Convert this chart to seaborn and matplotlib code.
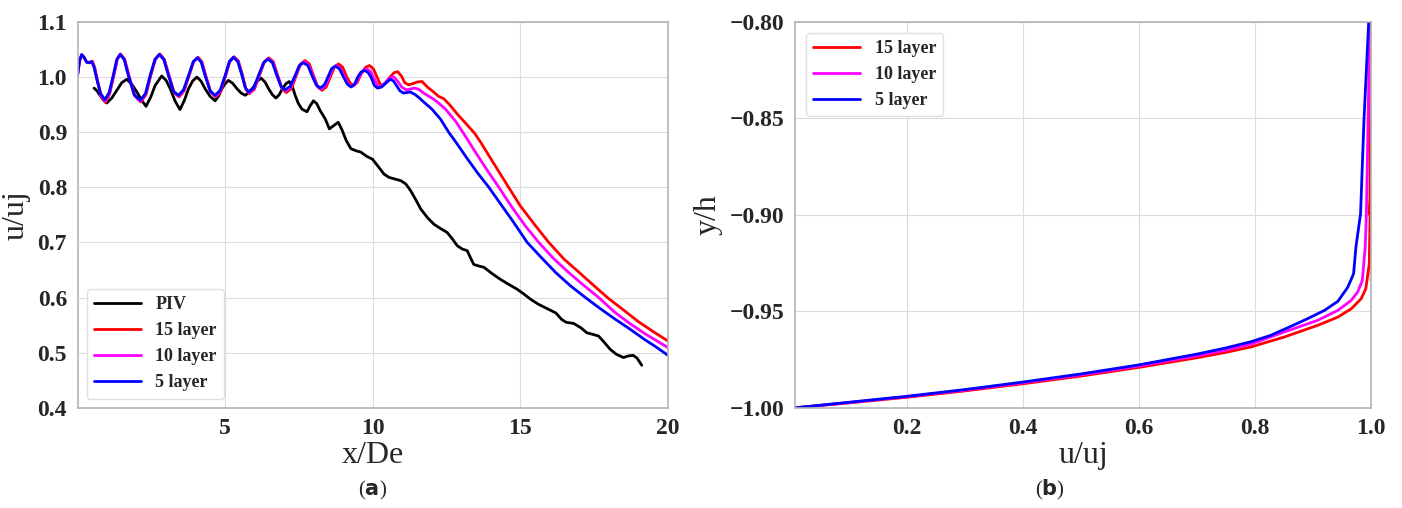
import matplotlib
matplotlib.use("Agg")
import matplotlib.pyplot as plt
import seaborn as sns

# ---- panel (a): centreline velocity decay ----
piv_x = [0.56, 0.66, 0.76, 0.88, 0.99, 1.16, 1.33, 1.50, 1.67, 1.84, 2.01, 2.17, 2.32, 2.48, 2.63,
         2.85, 3.00, 3.14, 3.30, 3.47, 3.62, 3.76, 3.90, 4.04, 4.18, 4.32, 4.49, 4.66, 4.78, 4.89,
         5.00, 5.11, 5.25, 5.40, 5.54, 5.68, 5.82, 5.96, 6.09, 6.22, 6.35, 6.47, 6.60, 6.72, 6.83,
         6.94, 7.06, 7.17, 7.27, 7.37, 7.48, 7.60, 7.77, 7.88, 7.99, 8.10, 8.22, 8.39, 8.53, 8.70,
         8.83, 8.95, 9.10, 9.26, 9.45, 9.59, 9.80, 9.99, 10.18, 10.38, 10.55, 10.75, 10.95, 11.12,
         11.28, 11.45, 11.62, 11.85, 12.07, 12.30, 12.52, 12.70, 12.86, 13.03, 13.20, 13.30, 13.42,
         13.60, 13.76, 14.05, 14.32, 14.60, 14.89, 15.10, 15.34, 15.60, 15.90, 16.20, 16.40, 16.55,
         16.80, 17.05, 17.25, 17.46, 17.65, 17.85, 18.04, 18.25, 18.49, 18.65, 18.82, 18.95, 19.11]
piv_u = [0.980, 0.975, 0.967, 0.958, 0.953, 0.962, 0.976, 0.990, 0.996, 0.987, 0.973, 0.958, 0.947,
         0.964, 0.985, 1.002, 0.994, 0.979, 0.957, 0.941, 0.958, 0.979, 0.993, 1.000, 0.993, 0.979,
         0.965, 0.957, 0.966, 0.979, 0.988, 0.994, 0.989, 0.979, 0.971, 0.967, 0.973, 0.982, 0.993,
         0.998, 0.991, 0.979, 0.968, 0.962, 0.968, 0.979, 0.988, 0.992, 0.984, 0.967, 0.952, 0.942,
         0.937, 0.948, 0.957, 0.952, 0.939, 0.924, 0.906, 0.913, 0.918, 0.905, 0.885, 0.870, 0.866,
         0.864, 0.856, 0.851, 0.838, 0.824, 0.818, 0.815, 0.812, 0.806, 0.794, 0.778, 0.761, 0.745,
         0.733, 0.725, 0.718, 0.706, 0.694, 0.688, 0.685, 0.673, 0.660, 0.657, 0.655, 0.643, 0.633,
         0.624, 0.615, 0.607, 0.597, 0.588, 0.580, 0.572, 0.560, 0.555, 0.553, 0.545, 0.536, 0.533,
         0.530, 0.518, 0.506, 0.497, 0.491, 0.494, 0.495, 0.490, 0.477]

l15_x = [0.00, 0.07, 0.14, 0.22, 0.31, 0.40, 0.50, 0.58, 0.67, 0.80, 0.95, 1.09, 1.23, 1.35, 1.46,
         1.60, 1.74, 1.94, 2.14, 2.32, 2.48, 2.64, 2.79, 2.94, 3.10, 3.27, 3.44, 3.61, 3.78, 3.94,
         4.08, 4.21, 4.34, 4.51, 4.68, 4.85, 5.02, 5.16, 5.30, 5.45, 5.59, 5.70, 5.82, 5.99, 6.16,
         6.33, 6.48, 6.63, 6.78, 6.93, 7.07, 7.24, 7.41, 7.56, 7.70, 7.85, 7.99, 8.14, 8.28, 8.42,
         8.56, 8.70, 8.84, 8.98, 9.12, 9.25, 9.35, 9.47, 9.60, 9.76, 9.89, 10.02, 10.16, 10.25,
         10.31, 10.44, 10.58, 10.72, 10.84, 10.97, 11.08, 11.21, 11.35, 11.50, 11.67, 11.85, 12.06,
         12.23, 12.40, 12.60, 12.86, 13.15, 13.45, 13.65, 14.10, 14.60, 15.00, 15.50, 15.96, 16.47,
         17.00, 17.50, 17.99, 18.50, 19.00, 19.50, 20.00]
l15_u = [1.003, 1.030, 1.040, 1.036, 1.027, 1.027, 1.029, 1.018, 0.995, 0.965, 0.954, 0.970, 1.003,
         1.033, 1.042, 1.032, 1.003, 0.966, 0.955, 0.968, 1.003, 1.033, 1.042, 1.032, 1.003, 0.972,
         0.964, 0.975, 1.003, 1.029, 1.036, 1.028, 1.003, 0.973, 0.964, 0.974, 1.003, 1.029, 1.037,
         1.029, 1.003, 0.978, 0.970, 0.978, 1.003, 1.028, 1.035, 1.028, 1.003, 0.979, 0.972, 0.979,
         1.003, 1.024, 1.030, 1.024, 1.003, 0.982, 0.976, 0.982, 1.000, 1.018, 1.024, 1.018, 1.000,
         0.988, 0.985, 0.990, 1.005, 1.018, 1.021, 1.015, 0.998, 0.987, 0.985, 0.990, 1.000, 1.008,
         1.010, 1.002, 0.990, 0.986, 0.988, 0.991, 0.992, 0.982, 0.973, 0.965, 0.961, 0.950, 0.933,
         0.916, 0.898, 0.882, 0.843, 0.800, 0.766, 0.731, 0.700, 0.670, 0.645, 0.621, 0.598, 0.577,
         0.556, 0.538, 0.521]

l10_x = [0.00, 0.07, 0.14, 0.22, 0.31, 0.40, 0.49, 0.57, 0.66, 0.79, 0.94, 1.08, 1.22, 1.34, 1.45,
         1.59, 1.73, 1.93, 2.13, 2.31, 2.47, 2.63, 2.78, 2.93, 3.09, 3.26, 3.43, 3.60, 3.77, 3.93,
         4.07, 4.20, 4.33, 4.50, 4.67, 4.84, 5.01, 5.15, 5.29, 5.44, 5.58, 5.69, 5.81, 5.98, 6.15,
         6.32, 6.47, 6.62, 6.77, 6.91, 7.05, 7.22, 7.39, 7.54, 7.68, 7.83, 7.97, 8.11, 8.25, 8.39,
         8.52, 8.64, 8.76, 8.90, 9.05, 9.18, 9.30, 9.42, 9.55, 9.68, 9.80, 9.93, 10.06, 10.16, 10.24,
         10.38, 10.52, 10.64, 10.72, 10.85, 10.98, 11.12, 11.25, 11.40, 11.55, 11.75, 12.06, 12.25,
         12.46, 12.80, 13.05, 13.45, 13.85, 14.27, 14.70, 15.15, 15.62, 16.10, 16.60, 17.10, 17.65,
         18.20, 18.70, 19.20, 19.60, 20.00]
l10_u = [1.003, 1.030, 1.040, 1.036, 1.027, 1.026, 1.028, 1.018, 0.996, 0.967, 0.956, 0.971, 1.003,
         1.032, 1.041, 1.032, 1.003, 0.967, 0.956, 0.969, 1.003, 1.032, 1.041, 1.032, 1.003, 0.973,
         0.965, 0.976, 1.003, 1.028, 1.035, 1.027, 1.003, 0.974, 0.965, 0.975, 1.003, 1.028, 1.036,
         1.028, 1.003, 0.980, 0.971, 0.979, 1.003, 1.027, 1.034, 1.027, 1.003, 0.981, 0.975, 0.981,
         1.003, 1.022, 1.028, 1.022, 1.003, 0.984, 0.978, 0.984, 1.000, 1.016, 1.021, 1.016, 1.000,
         0.987, 0.983, 0.988, 1.002, 1.012, 1.015, 1.010, 0.996, 0.985, 0.982, 0.987, 0.996, 1.000,
         1.000, 0.992, 0.982, 0.977, 0.978, 0.980, 0.978, 0.970, 0.960, 0.952, 0.942, 0.920, 0.900,
         0.866, 0.833, 0.800, 0.765, 0.731, 0.700, 0.672, 0.647, 0.624, 0.600, 0.573, 0.553, 0.535,
         0.522, 0.509]

l5_x = [0.00, 0.07, 0.14, 0.22, 0.31, 0.40, 0.48, 0.56, 0.65, 0.78, 0.93, 1.07, 1.21, 1.33, 1.44,
        1.58, 1.72, 1.92, 2.12, 2.30, 2.46, 2.62, 2.77, 2.92, 3.08, 3.25, 3.42, 3.59, 3.76, 3.92,
        4.06, 4.19, 4.32, 4.49, 4.66, 4.83, 5.00, 5.14, 5.28, 5.43, 5.57, 5.68, 5.79, 5.96, 6.13,
        6.30, 6.45, 6.60, 6.75, 6.89, 7.03, 7.20, 7.37, 7.51, 7.65, 7.80, 7.94, 8.08, 8.22, 8.36,
        8.48, 8.60, 8.73, 8.87, 9.01, 9.14, 9.26, 9.38, 9.49, 9.60, 9.71, 9.83, 9.94, 10.05, 10.16,
        10.30, 10.42, 10.59, 10.70, 10.80, 10.92, 11.04, 11.16, 11.27, 11.44, 11.58, 11.72, 12.00,
        12.29, 12.57, 12.80, 13.20, 13.55, 13.93, 14.30, 14.75, 15.23, 15.70, 16.20, 16.70, 17.20,
        17.70, 18.20, 18.70, 19.20, 19.60, 20.00]
l5_u = [1.003, 1.030, 1.041, 1.036, 1.027, 1.026, 1.028, 1.018, 0.997, 0.970, 0.959, 0.972, 1.003,
        1.032, 1.041, 1.032, 1.003, 0.968, 0.958, 0.970, 1.003, 1.032, 1.041, 1.032, 1.003, 0.974,
        0.967, 0.977, 1.003, 1.028, 1.035, 1.027, 1.003, 0.975, 0.967, 0.976, 1.003, 1.028, 1.036,
        1.028, 1.003, 0.981, 0.973, 0.980, 1.003, 1.026, 1.033, 1.026, 1.003, 0.983, 0.977, 0.983,
        1.003, 1.021, 1.026, 1.021, 1.003, 0.986, 0.980, 0.986, 1.000, 1.015, 1.020, 1.015, 1.000,
        0.987, 0.982, 0.987, 1.000, 1.009, 1.012, 1.009, 1.000, 0.985, 0.980, 0.982, 0.988, 0.996,
        0.993, 0.985, 0.975, 0.971, 0.972, 0.973, 0.968, 0.962, 0.955, 0.942, 0.924, 0.900, 0.883,
        0.852, 0.826, 0.800, 0.772, 0.738, 0.700, 0.673, 0.645, 0.621, 0.600, 0.580, 0.561, 0.543,
        0.524, 0.510, 0.495]

# ---- panel (b): near-wall profile ----
b15_u = [0.010, 0.100, 0.200, 0.300, 0.400, 0.500, 0.600, 0.700, 0.750, 0.793, 0.850, 0.908, 0.943,
         0.966, 0.983, 0.991, 0.997, 0.999, 0.997, 0.998, 0.999, 1.000]
b15_y = [-1.000, -0.9975, -0.9946, -0.9913, -0.9876, -0.9836, -0.9791, -0.9741, -0.9713, -0.9685,
         -0.9634, -0.9573, -0.9530, -0.9487, -0.9435, -0.9383, -0.9340, -0.9305, -0.9167, -0.9000,
         -0.8500, -0.8000]
b10_u = [0.010, 0.100, 0.200, 0.300, 0.400, 0.500, 0.600, 0.700, 0.750, 0.793, 0.850, 0.908, 0.943,
         0.966, 0.977, 0.985, 0.990, 0.992, 0.995, 0.998]
b10_y = [-1.000, -0.9973, -0.9943, -0.9909, -0.9871, -0.9830, -0.9784, -0.9731, -0.9701, -0.9670,
         -0.9608, -0.9547, -0.9495, -0.9443, -0.9400, -0.9340, -0.9167, -0.9000, -0.8500, -0.8000]
b5_u = [0.010, 0.100, 0.200, 0.300, 0.400, 0.500, 0.600, 0.700, 0.750, 0.793, 0.827, 0.862, 0.891,
        0.920, 0.943, 0.960, 0.970, 0.974, 0.982, 0.988, 0.996]
b5_y = [-1.000, -0.9972, -0.9941, -0.9906, -0.9867, -0.9825, -0.9778, -0.9722, -0.9690, -0.9658,
        -0.9625, -0.9578, -0.9538, -0.9495, -0.9448, -0.9375, -0.9305, -0.9167, -0.8994, -0.8500,
        -0.8000]

a_xticks = [5, 10, 15, 20]
a_yticks = [0.4, 0.5, 0.6, 0.7, 0.8, 0.9, 1.0, 1.1]
b_xticks = [0.2, 0.4, 0.6, 0.8, 1.0]
b_yticks = [-1.00, -0.95, -0.90, -0.85, -0.80]

sns.set_style("whitegrid", {"grid.color": "#dcdcdc", "axes.edgecolor": "#b4b4b4"})
plt.rcParams["font.family"] = ["Liberation Serif", "DejaVu Serif"]
plt.rcParams["axes.linewidth"] = 1.2

fig = plt.figure(figsize=(14.02, 5.08), dpi=100)
ax1 = fig.add_axes([0.0553, 0.1974, 0.4212, 0.7593])
ax2 = fig.add_axes([0.5671, 0.1974, 0.4108, 0.7593])

sns.lineplot(x=piv_x, y=piv_u, ax=ax1, color="black", lw=2, label="PIV", sort=False)
sns.lineplot(x=l15_x, y=l15_u, ax=ax1, color="red", lw=2, label="15 layer", sort=False)
sns.lineplot(x=l10_x, y=l10_u, ax=ax1, color="magenta", lw=2, label="10 layer", sort=False)
sns.lineplot(x=l5_x, y=l5_u, ax=ax1, color="blue", lw=2, label="5 layer", sort=False)
ax1.set_xlim(0, 20)
ax1.set_ylim(0.4, 1.1)
ax1.set_xticks(a_xticks)
ax1.set_yticks(a_yticks)
ax1.set_xticklabels([str(t) for t in a_xticks])
ax1.set_yticklabels([f"{t:.1f}" for t in a_yticks])
ax1.set_xlabel("x/De", fontsize=23, labelpad=1)
ax1.set_ylabel("u/uj", fontsize=23, labelpad=5)
ax1.legend(loc="lower left", prop={"weight": "bold", "size": 13}, handlelength=2.6,
           framealpha=1, edgecolor="#e0e0e0", borderaxespad=0.5)

sns.lineplot(x=b15_u, y=b15_y, ax=ax2, color="red", lw=2, label="15 layer", sort=False)
sns.lineplot(x=b10_u, y=b10_y, ax=ax2, color="magenta", lw=2, label="10 layer", sort=False)
sns.lineplot(x=b5_u, y=b5_y, ax=ax2, color="blue", lw=2, label="5 layer", sort=False)
ax2.set_xlim(0.008, 1.0)
ax2.set_ylim(-1.0, -0.8)
ax2.set_xticks(b_xticks)
ax2.set_yticks(b_yticks)
ax2.set_xticklabels([f"{t:.1f}" for t in b_xticks])
ax2.set_yticklabels([f"{t:.2f}".replace("-", "\u2212") for t in b_yticks])
ax2.set_xlabel("u/uj", fontsize=23, labelpad=1)
ax2.set_ylabel("y/h", fontsize=23, labelpad=5)
ax2.legend(loc="upper left", prop={"weight": "bold", "size": 13}, handlelength=2.6,
           framealpha=1, edgecolor="#e0e0e0", borderaxespad=0.6)

for ax in (ax1, ax2):
    ax.tick_params(axis="both", labelsize=17, pad=4)
    for lab in ax.get_xticklabels() + ax.get_yticklabels():
        lab.set_fontweight("bold")

fig.text(0.266, 0.025, r"($\mathbf{a}$)", ha="center", fontsize=15)
fig.text(0.749, 0.025, r"($\mathbf{b}$)", ha="center", fontsize=15)

fig.savefig("out.png", dpi=100)
plt.close(fig)
